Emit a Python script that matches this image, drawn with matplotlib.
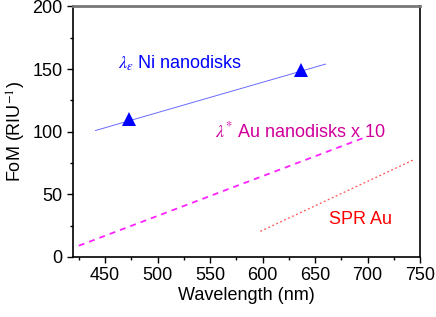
import numpy as np
import matplotlib
matplotlib.use("Agg")
import matplotlib.pyplot as plt
from matplotlib.ticker import MultipleLocator

plt.rcParams['font.family'] = ['Liberation Sans', 'DejaVu Sans']
plt.rcParams['mathtext.fontset'] = 'stix'

# lambda_eps Ni nanodisks: measured points and linear fit
ni_x = [473, 637]
ni_y = [110, 149]
ni_fit_x = [441, 660]
ni_fit_y = [101, 154]

# lambda* Au nanodisks (x 10)
au_x = [425, 696]
au_y = [9, 95]

# SPR Au
spr_x = [598, 745]
spr_y = [20.5, 78]

fs = 13

fig = plt.figure(figsize=(4.36, 3.17), dpi=100)
ax = fig.add_axes([0.1674, 0.1893, 0.7959, 0.7902])

ax.plot(ni_fit_x, ni_fit_y, color="#6a6aff", lw=0.7)
ax.plot(ni_x, ni_y, "^", color="#0000ff", markersize=10.5, markeredgewidth=0)
ax.plot(au_x, au_y, color="#ff22ff", lw=1.3, dashes=(3.3, 2.8))
ax.plot(spr_x, spr_y, color="#ff5050", lw=0.9, dashes=(1.5, 2))

ax.text(462, 155, r"$\lambda_\varepsilon$ Ni nanodisks", color="#0000ff", fontsize=fs, va="center")
ax.text(555, 100, r"$\lambda^{*}$ Au nanodisks x 10", color="#d0009a", fontsize=fs, va="center")
ax.text(663, 30, "SPR Au", color="#ff0000", fontsize=fs, va="center")

ax.set_xlim(419.5, 750)
ax.set_ylim(0, 200)
ax.xaxis.set_major_locator(MultipleLocator(50))
ax.xaxis.set_minor_locator(MultipleLocator(25))
ax.yaxis.set_major_locator(MultipleLocator(50))
ax.yaxis.set_minor_locator(MultipleLocator(25))
ax.tick_params(which="both", direction="out", labelsize=fs, width=1)
ax.tick_params(which="major", length=4)
ax.tick_params(which="minor", length=2.5)
ax.tick_params(top=False, right=False)

for s in ["left", "bottom", "right"]:
    ax.spines[s].set_linewidth(1.2)
    ax.spines[s].set_color("black")
ax.spines["top"].set_color("#777777")
ax.spines["top"].set_linewidth(2)

ax.set_xlabel("Wavelength (nm)", fontsize=fs, labelpad=2)
ax.set_ylabel(r"FoM (RIU$^{-1}$)", fontsize=fs, labelpad=3)

fig.savefig("out.png", dpi=100)
